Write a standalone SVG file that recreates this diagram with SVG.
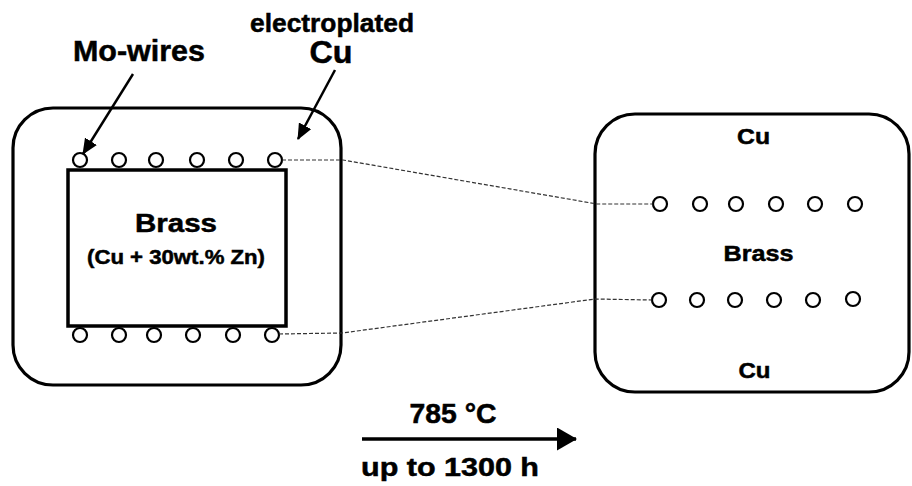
<svg xmlns="http://www.w3.org/2000/svg" width="912" height="486" viewBox="0 0 912 486">
<style>
text{font-family:"Liberation Sans",Arial,Helvetica,sans-serif;font-weight:bold;fill:#000;stroke:#000;stroke-width:0.5;text-anchor:middle}
.box{fill:none;stroke:#000;stroke-width:3.2}
.core{fill:#fff;stroke:#000;stroke-width:3.5}
.wire{fill:#fff;stroke:#000;stroke-width:2.2}
.dash{fill:none;stroke:#333;stroke-width:1.2;stroke-dasharray:4 2}
.lead{stroke:#000;stroke-width:2.5;fill:none}
</style>
<defs>
<marker id="ah" markerUnits="userSpaceOnUse" markerWidth="16" markerHeight="14" refX="15" refY="7" orient="auto">
<path d="M0,0 L16,7 L0,14 Z" fill="#000"/>
</marker>
<marker id="bigah" markerUnits="userSpaceOnUse" markerWidth="20" markerHeight="24" refX="19" refY="11.5" orient="auto">
<path d="M0,0 L20,11.5 L0,23 Z" fill="#000"/>
</marker>
</defs>

<g id="left-specimen">
<rect class="box" x="13" y="108" width="328" height="277" rx="40" ry="40"/>
<rect class="core" x="68" y="170" width="218" height="156"/>
<text x="176" y="232" font-size="26" textLength="82" lengthAdjust="spacingAndGlyphs">Brass</text>
<text x="176" y="264" font-size="20" textLength="178" lengthAdjust="spacingAndGlyphs">(Cu + 30wt.% Zn)</text>
<g id="left-wires-top">
<circle class="wire" cx="80" cy="160" r="7"/>
<circle class="wire" cx="119" cy="160" r="7"/>
<circle class="wire" cx="156" cy="160" r="7"/>
<circle class="wire" cx="197" cy="160" r="7"/>
<circle class="wire" cx="236" cy="160" r="7"/>
<circle class="wire" cx="275" cy="160" r="7"/>
</g>
<g id="left-wires-bottom">
<circle class="wire" cx="80" cy="335" r="7"/>
<circle class="wire" cx="119" cy="335" r="7"/>
<circle class="wire" cx="154" cy="335" r="7"/>
<circle class="wire" cx="193" cy="335" r="7"/>
<circle class="wire" cx="233" cy="335" r="7"/>
<circle class="wire" cx="272" cy="335" r="7"/>
</g>
</g>

<g id="right-specimen">
<rect class="box" x="595" y="114" width="314" height="278" rx="40" ry="40"/>
<text x="753.5" y="144" font-size="22" textLength="33" lengthAdjust="spacingAndGlyphs">Cu</text>
<text x="758.5" y="261" font-size="22" textLength="70" lengthAdjust="spacingAndGlyphs">Brass</text>
<text x="754.5" y="378" font-size="22" textLength="32" lengthAdjust="spacingAndGlyphs">Cu</text>
<g id="right-wires-top">
<circle class="wire" cx="660" cy="204" r="7"/>
<circle class="wire" cx="700" cy="204" r="7"/>
<circle class="wire" cx="736" cy="204" r="7"/>
<circle class="wire" cx="776" cy="204" r="7"/>
<circle class="wire" cx="815" cy="204" r="7"/>
<circle class="wire" cx="855" cy="204" r="7"/>
</g>
<g id="right-wires-bottom">
<circle class="wire" cx="659" cy="300" r="7"/>
<circle class="wire" cx="697" cy="300" r="7"/>
<circle class="wire" cx="735" cy="300" r="7"/>
<circle class="wire" cx="774" cy="300" r="7"/>
<circle class="wire" cx="813" cy="300" r="7"/>
<circle class="wire" cx="853" cy="299" r="7"/>
</g>
</g>

<g id="label-mo">
<text x="139" y="61" font-size="29" textLength="132" lengthAdjust="spacingAndGlyphs">Mo-wires</text>
</g>
<g id="label-cu">
<text x="332" y="32" font-size="25" textLength="164" lengthAdjust="spacingAndGlyphs">electroplated</text>
<text x="331" y="63" font-size="31" textLength="43" lengthAdjust="spacingAndGlyphs">Cu</text>
</g>
<g id="label-process">
<text x="453" y="423" font-size="27" textLength="87" lengthAdjust="spacingAndGlyphs">785 °C</text>
<text x="450" y="476" font-size="26" textLength="178" lengthAdjust="spacingAndGlyphs">up to 1300 h</text>
</g>

<g id="connectors">
<path class="dash" d="M282,160 L343,160 L597,204 L653,204"/>
<path class="dash" d="M279,334 L342,333 L595,299 L652,300"/>
<line class="lead" x1="133" y1="74" x2="83" y2="154" marker-end="url(#ah)"/>
<line class="lead" x1="335" y1="70" x2="298" y2="139" marker-end="url(#ah)"/>
<line x1="362" y1="439" x2="576" y2="439" stroke="#000" stroke-width="3.5" marker-end="url(#bigah)"/>
</g>
</svg>
